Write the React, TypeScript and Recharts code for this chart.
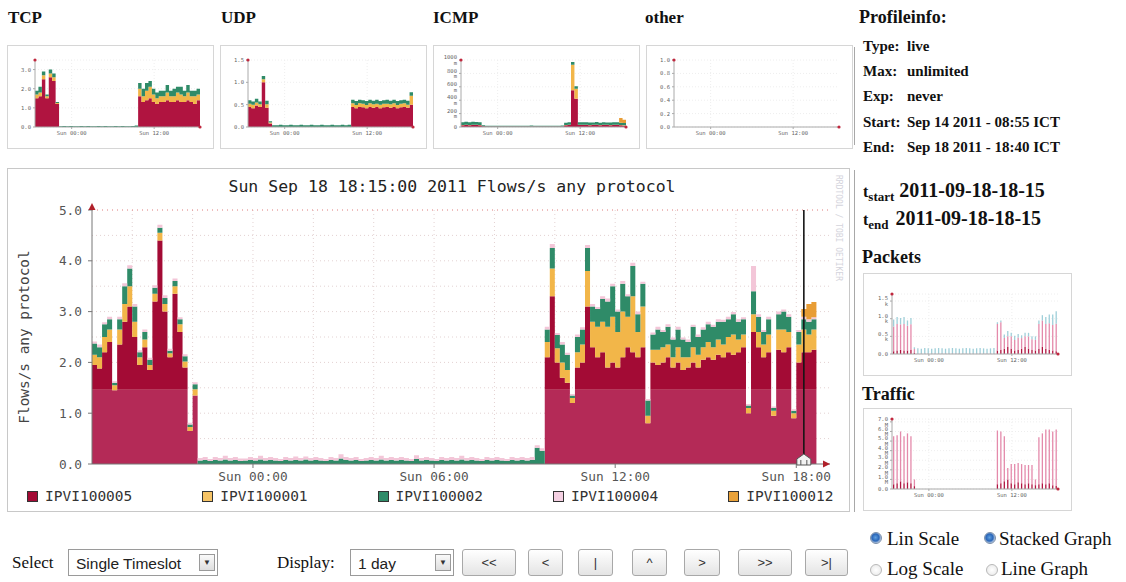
import React from 'react';
import {
  ComposedChart,
  Area,
  Bar,
  XAxis,
  YAxis,
  CartesianGrid,
  ReferenceLine,
  ReferenceDot
} from 'recharts';

const SERIF = '"Liberation Serif", "Times New Roman", serif';
const MONO = '"DejaVu Sans Mono", monospace';
const SANS = '"Liberation Sans", Arial, sans-serif';

// main graph: 10 minute slots, hours counted from Sat 18:40
const mainTicks = [16 / 3, 34 / 3, 52 / 3, 70 / 3];
const mainTickLabels = ['Sun 00:00', 'Sun 06:00', 'Sun 12:00', 'Sun 18:00'];
const mainYTicks = [0, 1, 2, 3, 4, 5];
const cursorAt = 23 + 35 / 60; // Sun 18:15
const RED_BAND = 1.46;

const quietZeros = [
  0, 0, 0, 0, 0, 0, 0, 0, 0, 0, 0, 0, 0, 0, 0, 0, 0, 0, 0, 0, 0, 0, 0,
  0, 0, 0, 0, 0, 0, 0, 0, 0, 0, 0, 0, 0, 0, 0, 0, 0, 0, 0, 0, 0, 0, 0,
  0, 0, 0, 0, 0, 0, 0, 0, 0, 0, 0, 0, 0, 0, 0, 0, 0, 0, 0, 0, 0, 0, 0
];
const eveZeros = [0, 0, 0, 0, 0, 0, 0, 0, 0, 0, 0, 0, 0, 0, 0, 0, 0, 0, 0, 0, 0];

// IPVI100005
const redEve = [1.95, 1.88, 2.2, 2.4, 1.45, 2.35, 2.8, 3.1, 2.5, 1.95, 2.3, 1.85, 3.2, 4.4, 3.0, 2.1, 3.35, 2.6, 1.9, 0.65, 1.35];
const redDay = [
  2.1, 3.3, 2.0, 1.7, 1.6, 1.2, 1.9, 2.0, 3.1, 2.3,
  2.1, 2.2, 1.9, 2.0, 1.9, 2.1, 2.3, 2.2, 2.1, 2.3,
  0.8, 2.0, 1.95, 2.0, 2.1, 1.9, 2.0, 1.85, 1.9, 2.0,
  1.9, 2.05, 2.1, 2.05, 2.15, 2.1, 2.2, 2.15, 2.2, 2.3,
  1.0, 2.6, 2.3, 2.1, 2.2, 0.95, 2.25, 2.2, 2.3, 0.9,
  2.0, 2.2, 2.2, 2.25
];
// IPVI100001
const yellowEve = [0.2, 0.22, 0.3, 0.25, 0.1, 0.3, 0.35, 0.4, 0.3, 0.15, 0.15, 0.1, 0.15, 0.15, 0.15, 0.08, 0.15, 0.15, 0.12, 0.08, 0.12];
const yellowDay = [
  0.3, 0.55, 0.28, 0.3, 0.25, 0.1, 0.3, 0.35, 0.7, 0.5,
  0.6, 0.6, 0.8, 0.9, 0.7, 0.9, 0.6, 1.1, 0.5, 0.8,
  0.15, 0.25, 0.3, 0.3, 0.25, 0.2, 0.3, 0.25, 0.2, 0.3,
  0.25, 0.25, 0.3, 0.25, 0.3, 0.25, 0.3, 0.4, 0.25, 0.25,
  0.1, 0.35, 0.3, 0.25, 0.35, 0.1, 0.4, 0.45, 0.3, 0.1,
  0.35, 0.45, 0.35, 0.4
];
// IPVI100002
const greenEve = [0.22, 0.2, 0.25, 0.2, 0.05, 0.2, 0.35, 0.35, 0.3, 0.1, 0.15, 0.1, 0.12, 0.1, 0.12, 0.05, 0.1, 0.1, 0.1, 0.05, 0.1];
const greenNight = [
  0.07, 0.08, 0.06, 0.08, 0.07, 0.09, 0.07, 0.08, 0.06, 0.07,
  0.08, 0.07, 0.09, 0.07, 0.08, 0.07, 0.06, 0.08, 0.07, 0.08,
  0.07, 0.09, 0.07, 0.08, 0.07, 0.06, 0.08, 0.07, 0.11, 0.08,
  0.07, 0.08, 0.06, 0.07, 0.08, 0.07, 0.09, 0.07, 0.08, 0.07,
  0.08, 0.07, 0.06, 0.1, 0.07, 0.08, 0.07, 0.06, 0.08, 0.07,
  0.08, 0.07, 0.09, 0.07, 0.08, 0.07, 0.06, 0.08, 0.07, 0.08,
  0.07, 0.06, 0.08, 0.07, 0.08, 0.07, 0.08, 0.32, 0.26
];
const greenDay = [
  0.25, 0.4, 0.26, 0.35, 0.3, 0.05, 0.3, 0.3, 0.45, 0.3,
  0.35, 0.45, 0.5, 0.6, 0.4, 0.55, 0.4, 0.6, 0.35, 0.45,
  0.3, 0.3, 0.4, 0.3, 0.35, 0.35, 0.35, 0.35, 0.3, 0.4,
  0.35, 0.35, 0.35, 0.4, 0.35, 0.45, 0.35, 0.4, 0.35, 0.3,
  0.05, 0.45, 0.3, 0.25, 0.3, 0.05, 0.3, 0.35, 0.3, 0.05,
  0.25, 0.2, 0.25, 0.2
];
// IPVI100004
const pinkEve = [0.04, 0.05, 0.04, 0.05, 0.03, 0.05, 0.06, 0.06, 0.05, 0.04, 0.05, 0.04, 0.05, 0.06, 0.05, 0.04, 0.05, 0.04, 0.04, 0.03, 0.04];
const pinkNight = [
  0.05, 0.06, 0.04, 0.06, 0.05, 0.07, 0.05, 0.06, 0.05, 0.04,
  0.06, 0.05, 0.07, 0.05, 0.06, 0.05, 0.04, 0.06, 0.05, 0.07,
  0.05, 0.06, 0.05, 0.06, 0.05, 0.04, 0.06, 0.05, 0.08, 0.06,
  0.05, 0.06, 0.04, 0.05, 0.06, 0.05, 0.07, 0.05, 0.06, 0.05,
  0.06, 0.05, 0.04, 0.07, 0.05, 0.06, 0.05, 0.04, 0.06, 0.05,
  0.06, 0.05, 0.07, 0.05, 0.06, 0.05, 0.04, 0.06, 0.05, 0.06,
  0.05, 0.04, 0.06, 0.05, 0.06, 0.05, 0.06, 0.05, 0.05
];
const pinkDay = [
  0.05, 0.08, 0.04, 0.05, 0.04, 0.03, 0.05, 0.04, 0.06, 0.05,
  0.04, 0.05, 0.06, 0.05, 0.04, 0.05, 0.04, 0.06, 0.05, 0.04,
  0.03, 0.04, 0.05, 0.04, 0.05, 0.04, 0.05, 0.04, 0.05, 0.04,
  0.05, 0.04, 0.05, 0.04, 0.05, 0.04, 0.05, 0.04, 0.05, 0.04,
  0.03, 0.5, 0.05, 0.04, 0.05, 0.03, 0.05, 0.04, 0.05, 0.03,
  0.04, 0.05, 0.05, 0.04
];
// IPVI100012
const orangeDay = [
  0, 0, 0, 0, 0, 0, 0, 0, 0, 0,
  0, 0, 0, 0, 0, 0, 0, 0, 0, 0,
  0, 0, 0, 0, 0, 0, 0, 0, 0, 0,
  0, 0, 0, 0, 0, 0, 0, 0, 0, 0,
  0, 0, 0, 0, 0, 0, 0, 0, 0, 0,
  0, 0.15, 0.3, 0.3
];

const red = [...redEve, ...quietZeros, ...redDay];
const yellow = [...yellowEve, ...quietZeros, ...yellowDay];
const green = [...greenEve, ...greenNight, ...greenDay];
const pink = [...pinkEve, ...pinkNight, ...pinkDay];
const orange = [...eveZeros, ...quietZeros, ...orangeDay];

const legendItems = [
  { name: 'IPVI100005', color: '#a30b35' },
  { name: 'IPVI100001', color: '#f6c466' },
  { name: 'IPVI100002', color: '#2f8b68' },
  { name: 'IPVI100004', color: '#f4d0e2' },
  { name: 'IPVI100012', color: '#e9a23a' }
];

// thumbnails: 30 minute slots (7 evening, 23 quiet, 18 daytime)
const thumbTicks = [16 / 3, 52 / 3];
const thumbTickLabels = ['Sun 00:00', 'Sun 12:00'];
const zeros23 = [0, 0, 0, 0, 0, 0, 0, 0, 0, 0, 0, 0, 0, 0, 0, 0, 0, 0, 0, 0, 0, 0, 0];
const zeros7 = [0, 0, 0, 0, 0, 0, 0];

const tcpRed = [1.5, 1.6, 2.5, 1.5, 2.6, 2.4, 1.2, ...zeros23, 1.6, 1.3, 1.4, 1.5, 1.3, 1.2, 1.3, 1.3, 1.4, 1.3, 1.3, 1.4, 1.3, 1.3, 1.4, 1.3, 1.2, 1.4];
const tcpYellow = [0.2, 0.2, 0.2, 0.1, 0.2, 0.2, 0.05, ...zeros23, 0.4, 0.3, 0.5, 0.6, 0.4, 0.3, 0.3, 0.3, 0.4, 0.3, 0.3, 0.4, 0.4, 0.3, 0.4, 0.3, 0.4, 0.3];
const tcpGreen = [0.2, 0.3, 0.2, 0.1, 0.2, 0.2, 0.05, 0.04, 0.05, 0.04, 0.05, 0.04, 0.04, 0.05, 0.04, 0.05, 0.04, 0.04, 0.05, 0.04, 0.05, 0.04, 0.04, 0.05, 0.04, 0.05, 0.04, 0.04, 0.05, 0.08, 0.3, 0.4, 0.4, 0.3, 0.3, 0.3, 0.3, 0.3, 0.4, 0.3, 0.4, 0.3, 0.4, 0.3, 0.4, 0.3, 0.3, 0.3];

const udpRed = [0.45, 0.42, 0.48, 0.45, 1.0, 0.43, 0.08, ...zeros23, 0.45, 0.42, 0.45, 0.44, 0.42, 0.45, 0.43, 0.45, 0.42, 0.44, 0.45, 0.43, 0.45, 0.42, 0.44, 0.45, 0.43, 0.5];
const udpYellow = [0.07, 0.08, 0.07, 0.06, 0.07, 0.08, 0.02, ...zeros23, 0.08, 0.07, 0.08, 0.08, 0.07, 0.08, 0.08, 0.07, 0.08, 0.08, 0.07, 0.08, 0.08, 0.07, 0.08, 0.08, 0.07, 0.2];
const udpGreen = [0.08, 0.07, 0.08, 0.06, 0.07, 0.08, 0.03, 0.04, 0.04, 0.05, 0.04, 0.04, 0.05, 0.04, 0.04, 0.05, 0.04, 0.04, 0.05, 0.04, 0.04, 0.05, 0.04, 0.04, 0.05, 0.04, 0.04, 0.05, 0.04, 0.05, 0.08, 0.09, 0.08, 0.08, 0.09, 0.08, 0.08, 0.09, 0.08, 0.08, 0.09, 0.08, 0.08, 0.09, 0.08, 0.08, 0.09, 0.08];

const icmpRed = [25, 30, 25, 30, 28, 25, 10, 8, 9, 8, 8, 9, 8, 8, 9, 8, 8, 9, 8, 8, 9, 8, 8, 9, 8, 8, 9, 8, 8, 9, 25, 30, 550, 420, 30, 28, 30, 25, 28, 30, 25, 30, 28, 25, 30, 28, 25, 20];
const icmpYellow = [5, 5, 5, 5, 5, 5, 2, ...zeros23, 5, 5, 380, 150, 5, 5, 5, 5, 5, 5, 5, 5, 5, 5, 5, 5, 5, 5];
const icmpGreen = [40, 45, 40, 42, 40, 40, 15, 10, 11, 10, 12, 10, 11, 10, 10, 12, 10, 11, 10, 10, 12, 10, 11, 10, 10, 12, 10, 11, 10, 12, 35, 35, 40, 40, 35, 38, 35, 36, 35, 38, 35, 36, 35, 36, 35, 38, 35, 35];
const icmpOrange = [...zeros7, ...zeros23, 0, 0, 0, 0, 0, 0, 0, 0, 0, 0, 0, 0, 0, 0, 0, 0, 70, 50];

const packetsRed = [0.08, 0.1, 0.12, 0.1, 0.1, 0.12, 0.04, 0.01, 0.01, 0.01, 0.01, 0.01, 0.01, 0.01, 0.01, 0.01, 0.01, 0.01, 0.01, 0.01, 0.01, 0.01, 0.01, 0.01, 0.01, 0.01, 0.01, 0.01, 0.01, 0.01, 0.1, 0.12, 0.15, 0.2, 0.15, 0.1, 0.12, 0.15, 0.2, 0.15, 0.12, 0.1, 0.15, 0.2, 0.15, 0.12, 0.1, 0.08];
const packetsPink = [0.7, 0.75, 0.72, 0.75, 0.7, 0.72, 0.1, ...zeros23, 0.75, 0.78, 0.3, 0.3, 0.35, 0.3, 0.35, 0.3, 0.3, 0.35, 0.3, 0.3, 0.7, 0.75, 0.7, 0.75, 0.72, 0.78];
const packetsBlue = [0.2, 0.2, 0.18, 0.2, 0.15, 0.18, 0.05, 0.15, 0.14, 0.16, 0.15, 0.14, 0.15, 0.16, 0.15, 0.14, 0.15, 0.16, 0.15, 0.14, 0.15, 0.16, 0.15, 0.14, 0.15, 0.16, 0.15, 0.14, 0.15, 0.16, 0.05, 0.05, 0.1, 0.15, 0.1, 0.12, 0.1, 0.08, 0.1, 0.1, 0.08, 0.1, 0.1, 0.15, 0.2, 0.25, 0.3, 0.35];

const trafficRed = [0.5, 0.6, 0.8, 0.6, 0.7, 0.6, 0.3, ...zeros23, 0.5, 0.6, 0.8, 1.0, 0.6, 0.5, 0.7, 0.6, 0.5, 0.6, 0.5, 0.4, 0.5, 0.6, 0.5, 0.6, 0.4, 0.3];
const trafficPink = [5.0, 5.0, 5.2, 4.9, 5.1, 4.9, 0.7, ...zeros23, 5.6, 5.4, 4.7, 1.2, 2.0, 2.1, 2.0, 2.0, 2.0, 1.9, 2.0, 0.6, 4.9, 5.2, 5.7, 5.6, 5.6, 5.9];

const profileInfo = [
  ['Type:', 'live'],
  ['Max:', 'unlimited'],
  ['Exp:', 'never'],
  ['Start:', 'Sep 14 2011 - 08:55 ICT'],
  ['End:', 'Sep 18 2011 - 18:40 ICT']
];

const navButtons = [
  { label: '<<', x: 462, w: 54 },
  { label: '<', x: 528, w: 35 },
  { label: '|', x: 578, w: 35 },
  { label: '^', x: 632, w: 35 },
  { label: '>', x: 684, w: 36 },
  { label: '>>', x: 738, w: 54 },
  { label: '>|', x: 805, w: 43 }
];

function stackRows(series: Record<string, number[]>, step: number, offset = 0, close = true) {
  const keys = Object.keys(series);
  const n = series[keys[0]].length;
  const rows: any[] = [];
  for (let i = 0; i < n; i++) {
    const row: any = { t: i * step + offset };
    keys.forEach((k) => (row[k] = series[k][i]));
    rows.push(row);
  }
  // repeat the last slot so the final step is drawn to its end
  if (close) rows.push({ ...rows[n - 1], t: n * step + offset });
  return rows;
}

const mainRows = stackRows(
  {
    redLow: red.map((v) => Math.min(v, RED_BAND)),
    redHigh: red.map((v) => Math.max(v - RED_BAND, 0)),
    yellow,
    green,
    pink,
    orange
  },
  1 / 6
);

const mainLayers = [
  { key: 'redLow', fill: '#b42a57' },
  { key: 'redHigh', fill: '#a30b35' },
  { key: 'yellow', fill: '#f2b649' },
  { key: 'green', fill: '#2f8b68' },
  { key: 'pink', fill: '#f3c6d8' },
  { key: 'orange', fill: '#e89d35' }
];

const thumbColors: Record<string, string> = {
  red: '#b01440',
  yellow: '#f2b649',
  green: '#2f8b68',
  orange: '#e89d35',
  pink: '#e48aab',
  blue: '#9fcfd9'
};

function Txt({ x, y, size, bold, family = SERIF, color = '#111', children, style }: any) {
  return (
    <div
      style={{
        position: 'absolute',
        left: x,
        top: y,
        fontSize: size,
        fontWeight: bold ? 700 : 400,
        fontFamily: family,
        color,
        lineHeight: 1,
        whiteSpace: 'nowrap',
        ...style
      }}
    >
      {children}
    </div>
  );
}

const endDot = (p: any) => <circle cx={p.cx} cy={p.cy} r={1.6} fill="#c0283e" />;

function Thumb({ x, y, w, h, rows, keys, yMax, yTicks, yFmt, top, bars, leftW = 27, right = 13 }: any) {
  return (
    <div
      style={{
        position: 'absolute',
        left: x,
        top: y,
        width: w,
        height: h,
        border: '1px solid #d6d6d6',
        boxSizing: 'border-box',
        background: '#fff'
      }}
    >
      <ComposedChart width={w - 2} height={h - 3} data={rows} margin={{ top, right, left: 0, bottom: 0 }}>
        <CartesianGrid stroke="#eee" strokeDasharray="1 2" verticalValues={thumbTicks} />
        <XAxis
          dataKey="t"
          type="number"
          domain={[0, 24]}
          ticks={thumbTicks}
          interval={0}
          tickFormatter={(v: number) => thumbTickLabels[thumbTicks.indexOf(v)] || ''}
          height={20}
          tickSize={2}
          tickMargin={2}
          stroke="#aaa"
          tick={{ fontSize: 5.5, fill: '#666', fontFamily: MONO }}
        />
        <YAxis
          domain={[0, yMax]}
          ticks={yTicks}
          interval={0}
          tickFormatter={yFmt}
          width={leftW}
          tickSize={2}
          tickMargin={2}
          stroke="#aaa"
          allowDataOverflow
          tick={{ fontSize: 5.5, fill: '#666', fontFamily: MONO }}
        />
        {keys.map((k: string) =>
          bars ? (
            <Bar key={k} dataKey={k} stackId="s" fill={thumbColors[k]} barSize={1.3} isAnimationActive={false} />
          ) : (
            <Area
              key={k}
              type="stepAfter"
              dataKey={k}
              stackId="s"
              fill={thumbColors[k]}
              fillOpacity={1}
              stroke="none"
              isAnimationActive={false}
            />
          )
        )}
        <ReferenceDot x={0} y={yMax} shape={endDot} ifOverflow="visible" />
        <ReferenceDot x={24} y={0} shape={endDot} ifOverflow="visible" />
      </ComposedChart>
    </div>
  );
}

const tcpRows = stackRows({ red: tcpRed, yellow: tcpYellow, green: tcpGreen }, 0.5);
const udpRows = stackRows({ red: udpRed, yellow: udpYellow, green: udpGreen }, 0.5);
const icmpRows = stackRows({ red: icmpRed, yellow: icmpYellow, green: icmpGreen, orange: icmpOrange }, 0.5);
const otherRows = stackRows({ slot: tcpRed.map((_, i) => i) }, 0.5);
const packetsRows = stackRows({ red: packetsRed, pink: packetsPink, blue: packetsBlue }, 0.5, 0.25, false);
const trafficRows = stackRows({ red: trafficRed, pink: trafficPink }, 0.5, 0.25, false);

const fmt1 = (v: number) => v.toFixed(1);

function Radio({ x, y, on }: any) {
  return (
    <div
      style={{
        position: 'absolute',
        left: x,
        top: y,
        width: 12,
        height: 12,
        borderRadius: '50%',
        boxSizing: 'border-box',
        border: on ? '1px solid #7a8ea8' : '1px solid #b8b8b8',
        background: on
          ? 'radial-gradient(circle at 45% 45%, #5fa0e0 0%, #2a66b8 45%, #c8d6e8 75%)'
          : 'radial-gradient(circle, #fff 0%, #e6e6e6 100%)'
      }}
    />
  );
}

function Button({ x, w, label }: any) {
  return (
    <div
      style={{
        position: 'absolute',
        left: x,
        top: 549,
        width: w,
        height: 27,
        boxSizing: 'border-box',
        border: '1px solid #a8a8a8',
        borderRadius: 3,
        background: 'linear-gradient(#ffffff, #e4e4e4)',
        fontFamily: SANS,
        fontSize: 13,
        color: '#333',
        display: 'flex',
        alignItems: 'center',
        justifyContent: 'center'
      }}
    >
      {label}
    </div>
  );
}

function SelectBox({ x, w, label }: any) {
  return (
    <div
      style={{
        position: 'absolute',
        left: x,
        top: 549,
        width: w,
        height: 27,
        boxSizing: 'border-box',
        border: '1px solid #9a9a9a',
        background: '#fff',
        fontFamily: SANS,
        fontSize: 15.5,
        color: '#222'
      }}
    >
      <div style={{ position: 'absolute', left: 7, top: 5 }}>{label}</div>
      <div
        style={{
          position: 'absolute',
          right: 2,
          top: 4,
          width: 16,
          height: 17,
          boxSizing: 'border-box',
          border: '1px solid #9a9a9a',
          background: 'linear-gradient(#fafafa, #dedede)',
          fontSize: 8,
          display: 'flex',
          alignItems: 'center',
          justifyContent: 'center',
          color: '#333'
        }}
      >
        ▼
      </div>
    </div>
  );
}

export default function App() {
  return (
    <div style={{ position: 'absolute', left: 0, top: 0, width: 1126, height: 582, background: '#fff', overflow: 'hidden' }}>
      {/* protocol headings */}
      <Txt x={8} y={9} size={17} bold>TCP</Txt>
      <Txt x={221} y={9} size={17} bold>UDP</Txt>
      <Txt x={433} y={9} size={17} bold>ICMP</Txt>
      <Txt x={645} y={9} size={17} bold>other</Txt>

      <Thumb x={7} y={45} w={207} h={104} rows={tcpRows} keys={['red', 'yellow', 'green']} yMax={3.5} yTicks={[0, 1, 2, 3]} yFmt={fmt1} top={14} />
      <Thumb x={220} y={45} w={207} h={104} rows={udpRows} keys={['red', 'yellow', 'green']} yMax={1.5} yTicks={[0, 0.5, 1, 1.5]} yFmt={fmt1} top={14} />
      <Thumb
        x={433}
        y={45}
        w={207}
        h={104}
        rows={icmpRows}
        keys={['red', 'yellow', 'green', 'orange']}
        yMax={1000}
        yTicks={[0, 200, 400, 600, 800, 1000]}
        yFmt={(v: number) => (v === 0 ? '0' : `${v} m`)}
        top={14}
      />
      <Thumb x={646} y={45} w={207} h={104} rows={otherRows} keys={[]} yMax={1} yTicks={[0, 0.2, 0.4, 0.6, 0.8, 1]} yFmt={fmt1} top={14} />

      {/* main graph */}
      <div
        style={{
          position: 'absolute',
          left: 7,
          top: 168,
          width: 843,
          height: 344,
          border: '1px solid #c8c8c8',
          boxSizing: 'border-box',
          background: '#fff'
        }}
      >
        <ComposedChart width={841} height={342} data={mainRows} margin={{ top: 41, right: 19, left: 34, bottom: 22 }}>
          <CartesianGrid
            stroke="#e3d2d2"
            strokeDasharray="1 3"
            horizontalValues={[0.5, 1, 1.5, 2, 2.5, 3, 3.5, 4, 4.5]}
            verticalValues={[4 / 3, 10 / 3, 16 / 3, 22 / 3, 28 / 3, 34 / 3, 40 / 3, 46 / 3, 52 / 3, 58 / 3, 64 / 3, 70 / 3]}
          />
          <XAxis
            dataKey="t"
            type="number"
            domain={[0, 24.45]}
            ticks={mainTicks}
            interval={0}
            tickFormatter={(v: number) => mainTickLabels[mainTicks.indexOf(v)] || ''}
            height={25}
            tickSize={4}
            tickMargin={4}
            stroke="#777"
            tick={{ fontSize: 12.8, fill: '#555', fontFamily: MONO }}
          />
          <YAxis
            domain={[0, 5]}
            ticks={mainYTicks}
            interval={0}
            tickFormatter={fmt1}
            width={50}
            tickSize={4}
            tickMargin={6}
            stroke="#777"
            tick={{ fontSize: 12.8, fill: '#555', fontFamily: MONO }}
          />
          {mainLayers.map((l) => (
            <Area
              key={l.key}
              type="stepAfter"
              dataKey={l.key}
              stackId="flows"
              fill={l.fill}
              fillOpacity={1}
              stroke="none"
              isAnimationActive={false}
            />
          ))}
          <ReferenceLine y={5} stroke="#e07a7a" strokeDasharray="1 4" />
          <ReferenceLine x={cursorAt} stroke="#151515" strokeWidth={1.6} />
          <ReferenceDot
            x={0}
            y={5}
            ifOverflow="visible"
            shape={(p: any) => <path d={`M${p.cx - 3.5},${p.cy} L${p.cx + 3.5},${p.cy} L${p.cx},${p.cy - 7} Z`} fill="#b0202a" />}
          />
          <ReferenceDot
            x={24.45}
            y={0}
            ifOverflow="visible"
            shape={(p: any) => <path d={`M${p.cx - 7},${p.cy - 3.5} L${p.cx},${p.cy} L${p.cx - 7},${p.cy + 3.5} Z`} fill="#b0202a" />}
          />
          <ReferenceDot
            x={cursorAt}
            y={0}
            ifOverflow="visible"
            shape={(p: any) => (
              <path
                d={`M${p.cx - 7},${p.cy + 1} L${p.cx - 7},${p.cy - 5} L${p.cx},${p.cy - 10} L${p.cx + 7},${p.cy - 5} L${p.cx + 7},${p.cy + 1} Z M${p.cx - 3},${p.cy + 1} L${p.cx - 3},${p.cy - 4} M${p.cx + 3},${p.cy + 1} L${p.cx + 3},${p.cy - 4}`}
                fill="#f2f2f2"
                stroke="#555"
                strokeWidth={1}
              />
            )}
          />
        </ComposedChart>

        <Txt x={444} y={9.5} size={16.5} family={MONO} color="#222" style={{ transform: 'translateX(-50%)' }}>
          Sun Sep 18 18:15:00 2011 Flows/s any protocol
        </Txt>
        <Txt
          x={16}
          y={168}
          size={14.4}
          family={MONO}
          color="#444"
          style={{ transform: 'translate(-50%, -50%) rotate(-90deg)' }}
        >
          Flows/s any protocol
        </Txt>
        <Txt x={826} y={6} size={8} family={MONO} color="#d4d4dc" style={{ writingMode: 'vertical-rl' }}>
          RRDTOOL / TOBI OETIKER
        </Txt>

        <div style={{ position: 'absolute', left: 19, top: 320, display: 'flex' }}>
          {legendItems.map((it) => (
            <div key={it.name} style={{ width: 175.3, display: 'flex', alignItems: 'center' }}>
              <div
                style={{
                  width: 11,
                  height: 11,
                  background: it.color,
                  border: '1px solid #333',
                  boxSizing: 'border-box',
                  marginRight: 7
                }}
              />
              <span style={{ fontFamily: MONO, fontSize: 14.5, color: '#333', lineHeight: 1 }}>{it.name}</span>
            </div>
          ))}
        </div>
      </div>

      {/* side panel */}
      <div style={{ position: 'absolute', left: 854, top: 47, width: 1, height: 98, background: '#a8a8a8' }} />
      <div style={{ position: 'absolute', left: 854, top: 170, width: 1, height: 342, background: '#a8a8a8' }} />

      <Txt x={859} y={8} size={18} bold>Profileinfo:</Txt>
      {profileInfo.map(([k, v], i) => (
        <React.Fragment key={k}>
          <Txt x={863} y={39 + i * 25.2} size={15} bold>{k}</Txt>
          <Txt x={907} y={39 + i * 25.2} size={15} bold>{v}</Txt>
        </React.Fragment>
      ))}

      <Txt x={863} y={180} size={20} bold>
        <span style={{ fontSize: 16 }}>t</span>
        <span style={{ fontSize: 13, position: 'relative', top: 4 }}>start</span>
        <span style={{ marginLeft: 5 }}>2011-09-18-18-15</span>
      </Txt>
      <Txt x={863} y={208} size={20} bold>
        <span style={{ fontSize: 16 }}>t</span>
        <span style={{ fontSize: 13, position: 'relative', top: 4 }}>end</span>
        <span style={{ marginLeft: 7 }}>2011-09-18-18-15</span>
      </Txt>

      <Txt x={862} y={248} size={18} bold>Packets</Txt>
      <Thumb
        x={863}
        y={273}
        w={209}
        h={103}
        rows={packetsRows}
        keys={['red', 'pink', 'blue']}
        yMax={1.7}
        yTicks={[0, 0.5, 1, 1.5]}
        yFmt={(v: number) => (v === 0 ? '0.0' : `${v.toFixed(1)} k`)}
        top={20}
        bars
        leftW={28}
      />
      <Txt x={862} y={385} size={18} bold>Traffic</Txt>
      <Thumb
        x={863}
        y={408}
        w={209}
        h={103}
        rows={trafficRows}
        keys={['red', 'pink']}
        yMax={7.3}
        yTicks={[0, 1, 2, 3, 4, 5, 6, 7]}
        yFmt={(v: number) => (v === 0 ? '0.0' : `${v.toFixed(1)} M`)}
        top={10}
        bars
        leftW={28}
      />

      <Radio x={870} y={532} on />
      <Txt x={887} y={529} size={19}>Lin Scale</Txt>
      <Radio x={984} y={532} on />
      <Txt x={999} y={529} size={19}>Stacked Graph</Txt>
      <Radio x={870} y={564} />
      <Txt x={887} y={559} size={19}>Log Scale</Txt>
      <Radio x={986} y={564} />
      <Txt x={1001} y={559} size={19}>Line Graph</Txt>

      {/* bottom controls */}
      <Txt x={12} y={554} size={17}>Select</Txt>
      <SelectBox x={68} w={150} label="Single Timeslot" />
      <Txt x={277} y={554} size={17}>Display:</Txt>
      <SelectBox x={350} w={104} label="1 day" />
      {navButtons.map((b) => (
        <Button key={b.label} x={b.x} w={b.w} label={b.label} />
      ))}
    </div>
  );
}
